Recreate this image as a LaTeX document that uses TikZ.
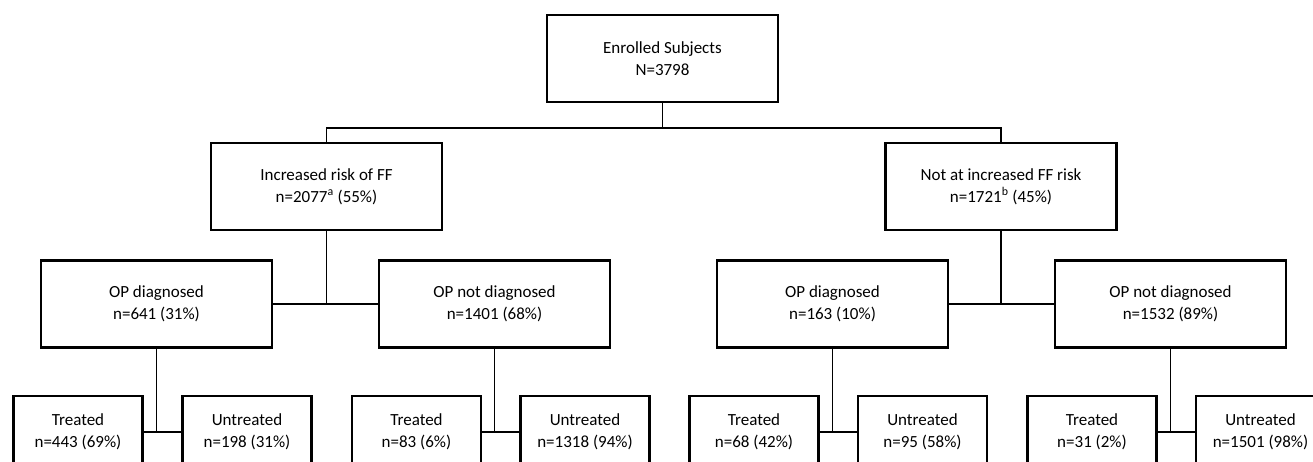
\documentclass[tikz,border=0pt]{standalone}
\usepackage{fontspec}
\setmainfont{Carlito}

\tikzset{
  box/.style={draw, line width=2.2pt, rectangle, align=center,
    minimum width=231pt, minimum height=87pt, inner sep=0pt,
    font=\fontsize{17}{22}\selectfont},
  leaf/.style={box, minimum width=129pt, minimum height=72pt},
  link/.style={line width=1.3pt}
}

\begin{document}
\begin{tikzpicture}[x=1pt, y=-1pt]
\clip (0,0) rectangle (1313,461);
\node[box] (e) at (662.5,58.5) {Enrolled Subjects\\N=3798};
\node[box] (r) at (326.5,186.5) {Increased risk of FF\\n=2077\textsuperscript{a} (55\%)};
\node[box] (nr) at (1001,186.5) {Not at increased FF risk\\n=1721\textsuperscript{b} (45\%)};
\node[box] (rd) at (156.5,304) {OP diagnosed\\n=641 (31\%)};
\node[box] (rn) at (494.5,304) {OP not diagnosed\\n=1401 (68\%)};
\node[box] (nd) at (832.5,304) {OP diagnosed\\n=163 (10\%)};
\node[box] (nn) at (1170.5,304) {OP not diagnosed\\n=1532 (89\%)};
\node[leaf] (t1) at (78,432) {Treated\\n=443 (69\%)};
\node[leaf] (u1) at (247,432) {Untreated\\n=198 (31\%)};
\node[leaf] (t2) at (416.5,432) {Treated\\n=83 (6\%)};
\node[leaf] (u2) at (585,432) {Untreated\\n=1318 (94\%)};
\node[leaf] (t3) at (754,432) {Treated\\n=68 (42\%)};
\node[leaf] (u3) at (922.5,432) {Untreated\\n=95 (58\%)};
\node[leaf] (t4) at (1092,432) {Treated\\n=31 (2\%)};
\node[leaf] (u4) at (1260.5,432) {Untreated\\n=1501 (98\%)};
\coordinate (split) at (662.5,128);

% top split
\draw[link] (e) -- (split);
\draw[link] (r.north) |- (split) -| (nr.north);
% risk groups
\draw[link] (r.south) -- (r.south |- rd.east);
\draw[link] (rd.east) -- (rn.west);
\draw[link] (nr.south) -- (nr.south |- nd.east);
\draw[link] (nd.east) -- (nn.west);
% treatment
\draw[link] (rd.south) -- (rd.south |- t1.east);
\draw[link] (t1.east) -- (u1.west);
\draw[link] (rn.south) -- (rn.south |- t2.east);
\draw[link] (t2.east) -- (u2.west);
\draw[link] (nd.south) -- (nd.south |- t3.east);
\draw[link] (t3.east) -- (u3.west);
\draw[link] (nn.south) -- (nn.south |- t4.east);
\draw[link] (t4.east) -- (u4.west);
\end{tikzpicture}
\end{document}
